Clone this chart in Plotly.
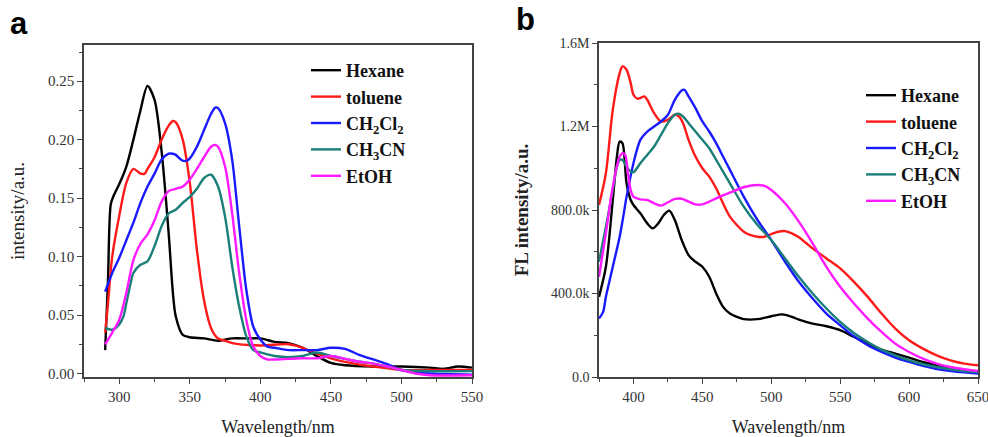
import plotly.graph_objects as go

# ---------------- Panel a: UV-vis absorption ----------------
names = ["Hexane", "toluene", "CH<sub>2</sub>Cl<sub>2</sub>", "CH<sub>3</sub>CN", "EtOH"]
colors = ["#000000", "#ff1a1a", "#1a1aff", "#1a7f78", "#ff1aff"]

a_hex_x = [290, 292, 294, 296, 300, 305, 310, 315, 320, 325, 330, 335, 338, 340, 345, 350, 360, 370, 380, 390, 400, 410, 420, 430, 440, 450, 460, 480, 500, 520, 530, 540, 550]
a_hex_y = [0.020, 0.080, 0.145, 0.152, 0.162, 0.177, 0.200, 0.225, 0.246, 0.234, 0.190, 0.120, 0.069, 0.049, 0.033, 0.031, 0.030, 0.028, 0.030, 0.030, 0.030, 0.027, 0.026, 0.022, 0.015, 0.009, 0.007, 0.006, 0.006, 0.005, 0.004, 0.006, 0.005]

a_tol_x = [290, 292, 295, 300, 305, 310, 315, 318, 320, 325, 330, 335, 338, 340, 345, 350, 355, 360, 365, 370, 375, 380, 400, 420, 430, 440, 450, 460, 480, 500, 520, 550]
a_tol_y = [0.035, 0.060, 0.100, 0.135, 0.163, 0.175, 0.171, 0.171, 0.175, 0.185, 0.200, 0.212, 0.216, 0.215, 0.200, 0.163, 0.106, 0.063, 0.039, 0.030, 0.028, 0.026, 0.024, 0.025, 0.022, 0.017, 0.013, 0.010, 0.006, 0.003, 0.003, 0.003]

a_dcm_x = [290, 295, 300, 305, 310, 315, 320, 325, 330, 335, 338, 340, 345, 348, 350, 355, 360, 365, 368, 370, 375, 380, 385, 390, 395, 400, 405, 410, 420, 430, 440, 450, 460, 470, 480, 490, 500, 510, 520, 550]
a_dcm_y = [0.070, 0.086, 0.099, 0.114, 0.129, 0.146, 0.160, 0.171, 0.183, 0.188, 0.188, 0.187, 0.182, 0.182, 0.184, 0.194, 0.208, 0.222, 0.2275, 0.227, 0.214, 0.183, 0.126, 0.072, 0.040, 0.029, 0.023, 0.022, 0.020, 0.020, 0.020, 0.022, 0.021, 0.016, 0.012, 0.008, 0.003, 0.001, 0.000, -0.001]

a_acn_x = [290, 295, 300, 303, 305, 308, 310, 315, 320, 325, 330, 335, 340, 345, 350, 355, 360, 365, 370, 375, 380, 385, 390, 395, 400, 410, 420, 430, 440, 450, 460, 470, 480, 490, 500, 520, 550]
a_acn_y = [0.039, 0.0375, 0.042, 0.049, 0.060, 0.077, 0.086, 0.093, 0.096, 0.109, 0.126, 0.137, 0.140, 0.146, 0.151, 0.158, 0.167, 0.170, 0.160, 0.134, 0.092, 0.057, 0.032, 0.020, 0.018, 0.015, 0.014, 0.015, 0.018, 0.015, 0.0125, 0.010, 0.0085, 0.006, 0.003, 0.002, 0.002]

a_eth_x = [290, 295, 300, 305, 310, 315, 320, 325, 330, 335, 340, 345, 350, 355, 360, 365, 368, 370, 375, 380, 385, 390, 395, 400, 405, 410, 420, 430, 440, 450, 460, 470, 480, 490, 500, 510, 520, 550]
a_eth_y = [0.025, 0.035, 0.046, 0.069, 0.097, 0.111, 0.119, 0.131, 0.147, 0.156, 0.158, 0.160, 0.166, 0.175, 0.185, 0.194, 0.1955, 0.194, 0.177, 0.137, 0.086, 0.046, 0.023, 0.015, 0.012, 0.012, 0.0125, 0.013, 0.013, 0.015, 0.0125, 0.010, 0.0085, 0.006, 0.003, 0.000, -0.0015, -0.0015]

# ---------------- Panel b: fluorescence ----------------
b_hex_x = [375, 380, 385, 388, 390, 392, 395, 398, 400, 405, 410, 414, 418, 422, 426, 430, 435, 440, 445, 450, 455, 460, 465, 470, 475, 480, 490, 500, 508, 515, 520, 530, 540, 550, 560, 570, 580, 590, 600, 610, 620, 630, 640, 650]
b_hex_y = [384e3, 528e3, 848e3, 1056e3, 1128e3, 1120e3, 928e3, 848e3, 824e3, 784e3, 736e3, 712e3, 736e3, 776e3, 797e3, 752e3, 656e3, 584e3, 552e3, 528e3, 480e3, 400e3, 336e3, 304e3, 288e3, 277e3, 277e3, 291e3, 300e3, 288e3, 275e3, 256e3, 243e3, 224e3, 192e3, 160e3, 131e3, 112e3, 93e3, 72e3, 56e3, 40e3, 29e3, 19e3]

b_tol_x = [375, 380, 385, 390, 392, 395, 398, 400, 403, 406, 408, 410, 415, 420, 425, 430, 433, 436, 440, 445, 450, 455, 460, 465, 470, 475, 480, 485, 490, 495, 500, 505, 510, 515, 520, 525, 530, 540, 550, 560, 570, 580, 590, 600, 610, 620, 630, 640, 650]
b_tol_y = [824e3, 976e3, 1280e3, 1456e3, 1488e3, 1472e3, 1408e3, 1352e3, 1333e3, 1340e3, 1344e3, 1328e3, 1264e3, 1224e3, 1232e3, 1256e3, 1248e3, 1216e3, 1136e3, 1056e3, 1000e3, 960e3, 904e3, 832e3, 768e3, 728e3, 696e3, 680e3, 672e3, 672e3, 685e3, 696e3, 699e3, 688e3, 669e3, 643e3, 616e3, 568e3, 520e3, 456e3, 384e3, 304e3, 232e3, 176e3, 136e3, 104e3, 80e3, 64e3, 56e3]

b_dcm_x = [375, 378, 380, 385, 390, 393, 395, 400, 405, 410, 415, 420, 425, 430, 435, 437, 440, 445, 450, 455, 460, 465, 470, 480, 490, 500, 510, 520, 530, 540, 550, 560, 570, 580, 590, 600, 610, 620, 630, 640, 650]
b_dcm_y = [280e3, 312e3, 384e3, 528e3, 672e3, 784e3, 864e3, 1024e3, 1136e3, 1176e3, 1200e3, 1224e3, 1256e3, 1328e3, 1373e3, 1376e3, 1344e3, 1288e3, 1224e3, 1176e3, 1120e3, 1056e3, 992e3, 864e3, 752e3, 656e3, 552e3, 456e3, 376e3, 304e3, 248e3, 195e3, 152e3, 120e3, 93e3, 72e3, 53e3, 38e3, 29e3, 22e3, 16e3]

b_acn_x = [375, 380, 385, 388, 390, 392, 395, 398, 400, 405, 410, 415, 420, 425, 430, 433, 436, 440, 445, 450, 455, 460, 465, 470, 480, 490, 500, 510, 520, 530, 540, 550, 560, 570, 580, 590, 600, 610, 620, 630, 640, 650]
b_acn_y = [552e3, 720e3, 896e3, 1008e3, 1040e3, 1040e3, 1008e3, 984e3, 981e3, 1024e3, 1064e3, 1104e3, 1160e3, 1216e3, 1256e3, 1261e3, 1248e3, 1216e3, 1176e3, 1136e3, 1096e3, 1040e3, 984e3, 928e3, 816e3, 728e3, 656e3, 568e3, 480e3, 400e3, 328e3, 264e3, 211e3, 168e3, 131e3, 104e3, 80e3, 61e3, 48e3, 37e3, 29e3, 24e3]

b_eth_x = [375, 380, 385, 390, 392, 394, 396, 398, 400, 405, 410, 415, 420, 425, 430, 435, 440, 445, 450, 455, 460, 470, 480, 490, 495, 500, 510, 520, 530, 540, 550, 560, 570, 580, 590, 600, 610, 620, 630, 640, 650]
b_eth_y = [480e3, 688e3, 912e3, 1056e3, 1072e3, 1064e3, 976e3, 896e3, 864e3, 851e3, 848e3, 832e3, 821e3, 837e3, 853e3, 854e3, 840e3, 827e3, 827e3, 840e3, 856e3, 883e3, 909e3, 920e3, 915e3, 896e3, 832e3, 744e3, 640e3, 528e3, 432e3, 352e3, 280e3, 216e3, 160e3, 120e3, 88e3, 64e3, 48e3, 37e3, 29e3]

b_ytickvals = [0, 400e3, 800e3, 1200e3, 1600e3]
b_yticktext = ["0.0", "400.0k", "800.0k", "1.2M", "1.6M"]

a_series = [(a_hex_x, a_hex_y), (a_tol_x, a_tol_y), (a_dcm_x, a_dcm_y), (a_acn_x, a_acn_y), (a_eth_x, a_eth_y)]
b_series = [(b_hex_x, b_hex_y), (b_tol_x, b_tol_y), (b_dcm_x, b_dcm_y), (b_acn_x, b_acn_y), (b_eth_x, b_eth_y)]

fig = go.Figure()
for (x, y), n, c in zip(a_series, names, colors):
    fig.add_trace(go.Scatter(x=x, y=y, name="<b>" + n + "</b>", mode="lines",
                             line=dict(color=c, width=2.4, shape="spline", smoothing=0.8),
                             xaxis="x", yaxis="y", legend="legend"))
for (x, y), n, c in zip(b_series, names, colors):
    fig.add_trace(go.Scatter(x=x, y=y, name="<b>" + n + "</b>", mode="lines",
                             line=dict(color=c, width=2.4, shape="spline", smoothing=0.8),
                             xaxis="x2", yaxis="y2", legend="legend2"))

tickfont = dict(family="Liberation Serif", size=15, color="#333333")
axcommon = dict(showline=True, linecolor="#444444", linewidth=1.5, mirror=True,
                ticks="outside", ticklen=5, tickwidth=1.2, tickcolor="#444444",
                showgrid=False, zeroline=False, automargin=False)
titlefont = dict(family="Liberation Serif", size=18, color="#222222")
minor_tick = dict(ticks="outside", ticklen=3, tickcolor="#444444")

W, H = 988, 437
fig.update_layout(
    width=W, height=H, margin=dict(l=0, r=0, t=0, b=0, autoexpand=False),
    paper_bgcolor="white", plot_bgcolor="white",
    showlegend=True,
    xaxis=dict(domain=[84 / W, 472 / W], range=[275, 550], dtick=50, tick0=300,
               minor=dict(dtick=25, **minor_tick), tickfont=tickfont, ticklabeloverflow="allow",
               title=dict(text="Wavelength/nm", font=titlefont, standoff=21),
               anchor="y", **axcommon),
    yaxis=dict(domain=[1 - 377 / H, 1 - 45 / H], range=[-0.003, 0.281], dtick=0.05, tick0=0, tickformat=".2f",
               minor=dict(dtick=0.025, **minor_tick), tickfont=tickfont,
               title=dict(text="intensity/a.u.", font=dict(family="Liberation Serif", size=19, color="#222222"), standoff=18),
               anchor="x", **axcommon),
    xaxis2=dict(domain=[599 / W, 978 / W], range=[375, 650], dtick=50, tick0=400,
                minor=dict(dtick=25, **minor_tick), tickfont=tickfont, ticklabeloverflow="allow",
                title=dict(text="Wavelength/nm", font=titlefont, standoff=21),
                anchor="y2", **axcommon),
    yaxis2=dict(domain=[1 - 377 / H, 1 - 43 / H], range=[0, 1.6e6], tickvals=b_ytickvals, ticktext=b_yticktext,
                minor=dict(dtick=200e3, **minor_tick),
                tickfont=dict(family="Liberation Serif", size=14, color="#333333"),
                title=dict(text="<b>FL intensity/a.u.</b>", font=dict(family="Liberation Serif", size=19, color="#222222"), standoff=17),
                anchor="x2", **axcommon),
    legend=dict(x=306 / W, y=1 - 52 / H, xanchor="left", yanchor="top", bgcolor="rgba(0,0,0,0)",
                font=dict(family="Liberation Serif", size=18, color="#111111"), tracegroupgap=0,
                itemwidth=30),
    legend2=dict(x=861 / W, y=1 - 77 / H, xanchor="left", yanchor="top", bgcolor="rgba(0,0,0,0)",
                 font=dict(family="Liberation Serif", size=18, color="#111111"), tracegroupgap=0,
                 itemwidth=30),
    annotations=[
        dict(text="<b>a</b>", x=8 / W, y=1 - 4 / H, xref="paper", yref="paper", xanchor="left", yanchor="top",
             showarrow=False, font=dict(family="Liberation Sans", size=31, color="black")),
        dict(text="<b>b</b>", x=514 / W, y=1 - 0 / H, xref="paper", yref="paper", xanchor="left", yanchor="top",
             showarrow=False, font=dict(family="Liberation Sans", size=31, color="black")),
    ],
)

fig.write_html("out.html", config={"displayModeBar": False},
               post_script="document.body.style.margin='0px';")
